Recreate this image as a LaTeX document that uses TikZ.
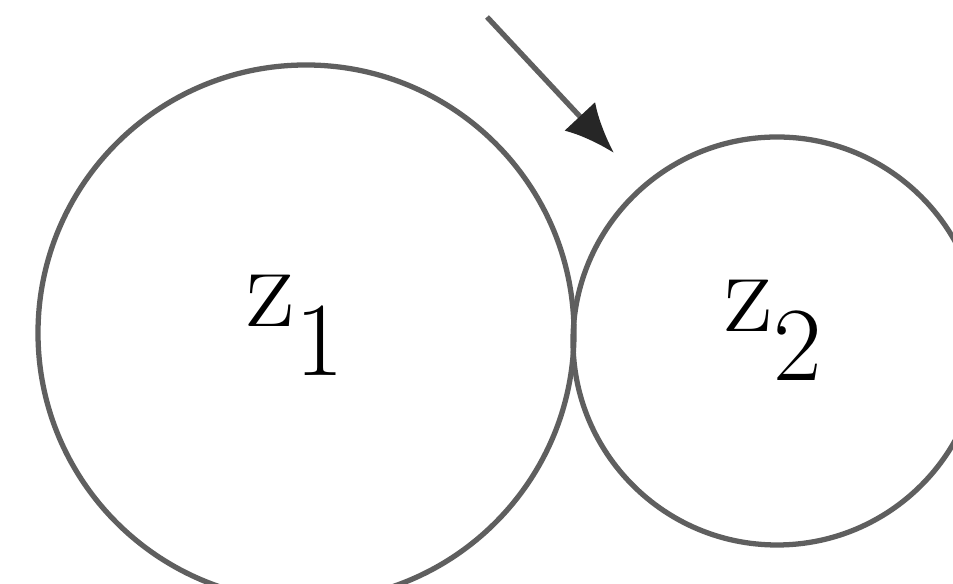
\documentclass[tikz,border=0pt]{standalone}
\usepackage{tikz}
\usetikzlibrary{arrows.meta,calc}
\definecolor{gearline}{RGB}{95,95,95}
\newcommand{\gearlbl}[1]{\fontsize{34}{40}\selectfont z\raisebox{-14pt}{\fontsize{30}{36}\selectfont #1}}

\begin{document}
\begin{tikzpicture}[>={Latex[length=0.5cm,width=0.42cm,color=black!85]}]
    \useasboundingbox (0,0) rectangle (9.53,5.84);
    % Gear centres
    \coordinate (O1) at (3.06,2.51);
    \coordinate (O2) at (7.77,2.43);
    
    % Gears
    \draw[gearline,line width=1.5pt] (O1) circle (2.68);
    \draw[gearline,line width=1.5pt] (O2) circle (2.04);
    
    % Labels
    \foreach \pt/\lbl/\dx/\dy in {O1/1/-0.11/0.08,O2/2/-0.04/0.11}
        \node[inner sep=0pt] (z\lbl) at ($(\pt)+(\dx,\dy)$) {\gearlbl{\lbl}};
    
    % Direction of rotation
    \coordinate (S) at (4.87,5.67);
    \coordinate (T) at (6.14,4.31);
    \draw[->,gearline,line width=1.5pt] (S)--(T);
\end{tikzpicture}
\end{document}
